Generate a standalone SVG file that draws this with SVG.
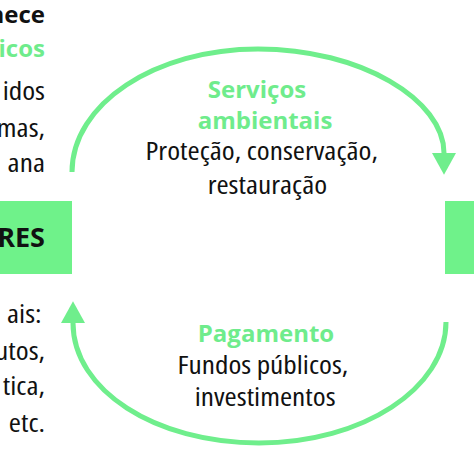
<svg xmlns="http://www.w3.org/2000/svg" width="474" height="474" viewBox="0 0 474 474">
<style>
text{font-family:"Open Sans","Noto Sans","DejaVu Sans",sans-serif;font-stretch:condensed;fill:#111}
.t{font-size:26px}
.g{fill:#6fec8c;font-weight:bold;font-size:24px;font-stretch:100%}
.b{font-weight:bold;font-stretch:100%}
.l{text-anchor:end}
.c{text-anchor:middle}
.box{fill:#6ff28a}
.arc{fill:none;stroke:#6fee8c;stroke-width:5}
</style>
<defs>
<marker id="ah" markerUnits="userSpaceOnUse" markerWidth="24" markerHeight="24" refX="0" refY="11" orient="auto" viewBox="0 0 22 22" overflow="visible">
<path d="M0,0 L20,11 L0,22 z" fill="#6fee8c"/>
</marker>
</defs>
<g id="left-top-text">
<text class="t l b" x="45" y="23" style="font-size:24px">nece</text>
<text class="g l" x="45" y="57">icos</text>
<g transform="translate(45,0) scale(1.13,1) translate(-45,0)">
<text class="t l" x="45" y="100">idos</text>
<text class="t l" x="45" y="137">mas,</text>
<text class="t l" x="45" y="172">ana</text>
</g>
</g>
<g id="left-box">
<rect class="box" x="0" y="201" width="72" height="73"/>
<text class="l b" x="45" y="247" style="font-size:27px">RES</text>
</g>
<g id="left-bottom-text" transform="translate(45,0) scale(1.13,1) translate(-45,0)">
<text class="t l" x="42" y="323">ais:</text>
<text class="t l" x="45" y="360">utos,</text>
<text class="t l" x="45" y="395">tica,</text>
<text class="t l" x="45" y="432">etc.</text>
</g>
<g id="right-box">
<rect class="box" x="445" y="201" width="29" height="73"/>
</g>
<g id="connectors">
<path class="arc" d="M72,172 C72,104 155,49 258,49 C361,49 444,100 444,153" marker-end="url(#ah)"/>
<path class="arc" d="M446,322 C446,388 363,443 259,443 C155,443 73,390 73,323" marker-end="url(#ah)"/>
</g>
<g id="label-top">
<text class="g c" x="257" y="98">Serviços</text>
<text class="g c" x="265" y="129">ambientais</text>
<g transform="translate(264,0) scale(1.13,1) translate(-264,0)">
<text class="t c" x="262" y="160">Proteção, conservação,</text>
<text class="t c" x="267" y="194">restauração</text>
</g>
</g>
<g id="label-bottom">
<text class="g c" x="266" y="342">Pagamento</text>
<g transform="translate(264,0) scale(1.13,1) translate(-264,0)">
<text class="t c" x="263" y="374">Fundos públicos,</text>
<text class="t c" x="265" y="406">investimentos</text>
</g>
</g>
</svg>
